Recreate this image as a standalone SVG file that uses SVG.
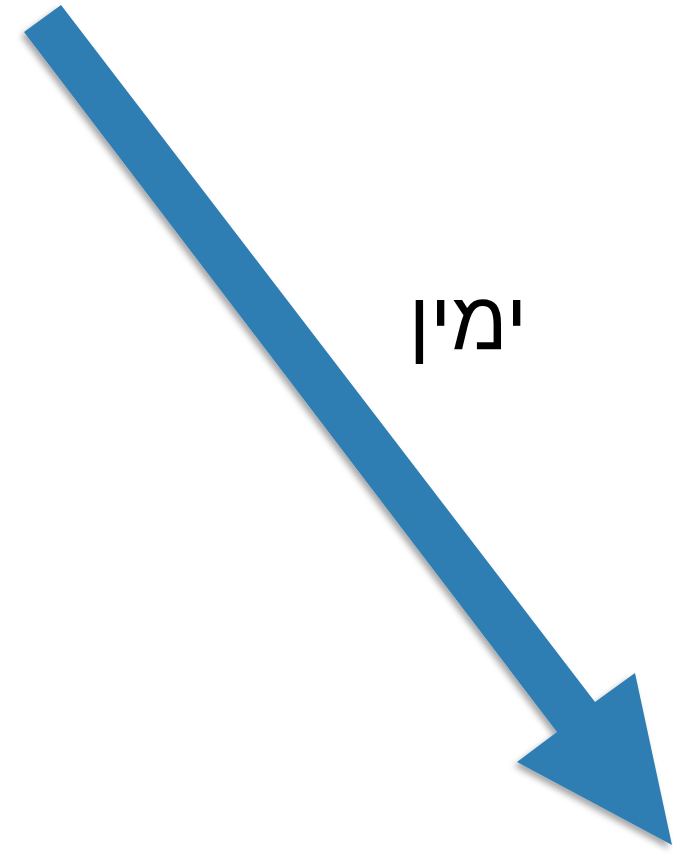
<svg xmlns="http://www.w3.org/2000/svg" width="673" height="857" viewBox="0 0 673 857">
<defs>
<style>
.arrow{fill:#2f7db3;filter:url(#sh);}
.lbl{font-family:"Liberation Sans","DejaVu Sans",sans-serif;font-size:82px;fill:#000;}
</style>
<filter id="sh" x="-10%" y="-10%" width="120%" height="120%">
<feDropShadow dx="-3" dy="4" stdDeviation="3" flood-color="#000" flood-opacity="0.35"/>
</filter>
</defs>
<rect width="673" height="857" fill="#fff"/>
<g id="connectors">
<polygon class="arrow" points="24,32 61,5 595,702 635,673 672,845 517,762 557,732"/>
</g>
<g id="label">
<text class="lbl" x="468" y="349" text-anchor="middle" direction="rtl">ימין</text>
</g>
</svg>
